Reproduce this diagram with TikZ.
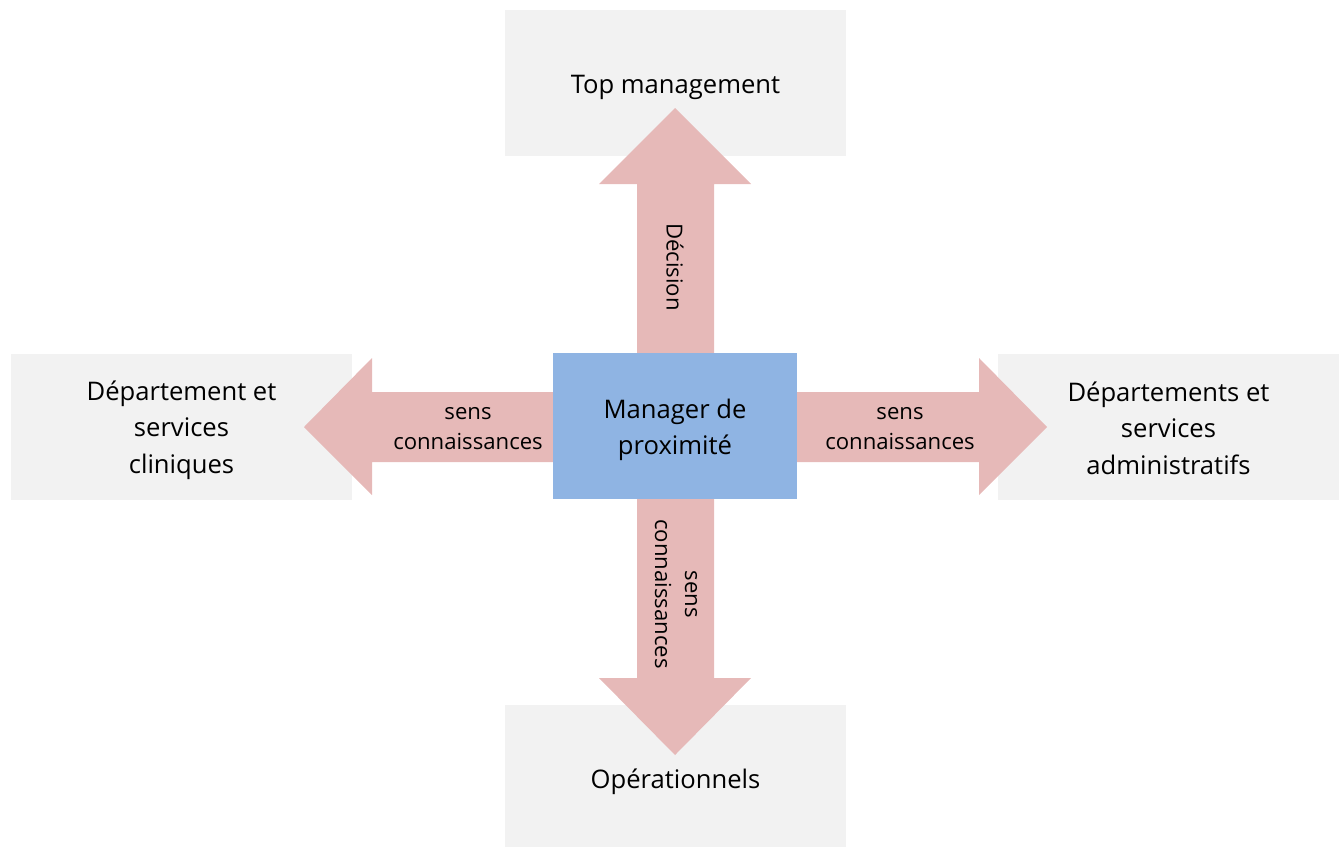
\documentclass[tikz,border=0pt]{standalone}
\usepackage{fontspec}
\setmainfont{Open Sans}
\definecolor{boxgray}{HTML}{F2F2F2}
\definecolor{arrowpink}{HTML}{E6B9B8}
\definecolor{centerblue}{HTML}{8FB4E3}
\tikzset{
  box/.style={fill=boxgray, draw=none, minimum width=255.75pt, minimum height=109.5pt, inner sep=0pt},
  centerbox/.style={fill=centerblue, draw=none, minimum width=183pt, minimum height=109.5pt, inner sep=0pt},
  boxtext/.style={inner sep=0pt, align=center, font=\fontsize{19.2pt}{27.4pt}\selectfont, text=black},
  fatarrow/.style={fill=arrowpink, draw=none},
  arrowlabel/.style={inner sep=0pt, align=center, font=\fontsize{16.6pt}{22.5pt}\selectfont, text=black}
}
\begin{document}
\begin{tikzpicture}[x=0.75pt, y=-0.75pt]
\useasboundingbox (0,0) rectangle (1344,846);
% outer boxes
\node[box] (top) at (675.5,83) {};
\node[box] (left) at (181.5,427) {};
\node[box] (right) at (1168.5,427) {};
\node[box] (bottom) at (675.5,778) {};
\node[boxtext] (toptext) at ([yshift=-3pt]top.center) {Top management};
\node[boxtext] (lefttext) at ([yshift=-2.25pt]left.center) {Département et\\services\\cliniques};
\node[boxtext] (righttext) at ([yshift=-0.75pt]right.center) {Départements et\\services\\administratifs};
\node[boxtext] (bottomtext) at ([yshift=-3pt]bottom.center) {Opérationnels};
% fat arrows
\fill[fatarrow] (637,353) -- (637,184) -- (599,184) -- (675,108) -- (751,184) -- (714,184) -- (714,353) -- cycle;
\fill[fatarrow] (553,392) -- (372,392) -- (372,358) -- (304,427) -- (372,495) -- (372,462) -- (553,462) -- cycle;
\fill[fatarrow] (797,392) -- (979,392) -- (979,358) -- (1047,427) -- (979,495) -- (979,462) -- (797,462) -- cycle;
\fill[fatarrow] (637,499) -- (637,678) -- (599,678) -- (675,755) -- (751,678) -- (714,678) -- (714,499) -- cycle;
% centre
\node[centerbox] (mgr) at (675,426) {};
\node[boxtext] (mgrtext) at ([yshift=-3pt]mgr.center) {Manager de\\proximité};
% arrow labels
\node[arrowlabel, rotate=-90] (lup) at (675,267) {Décision};
\node[arrowlabel] (lleft) at (468,428.5) {sens\\connaissances};
\node[arrowlabel] (lright) at (900,428.5) {sens\\connaissances};
\node[arrowlabel, rotate=-90] (ldown) at (676,594) {sens\\connaissances};
\end{tikzpicture}
\end{document}
